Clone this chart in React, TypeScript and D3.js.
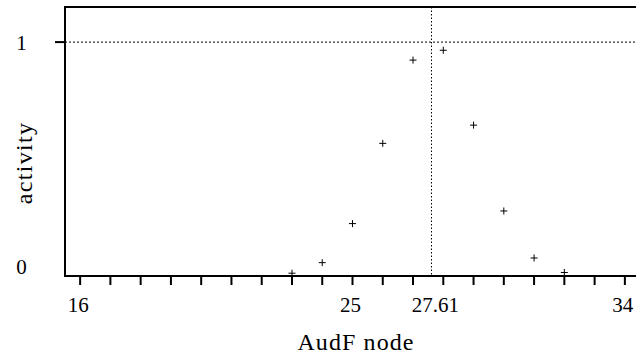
import * as d3 from 'd3';

const width = 636;
const height = 356;
const [mt, mr, mb, ml] = [7, -4, 80, 65];

// node positions and activity
const nodes = [23, 24, 25, 26, 27, 28, 29, 30, 31, 32];
const activity = [0.012, 0.057, 0.224, 0.567, 0.923, 0.965, 0.645, 0.278, 0.077, 0.015];

const xTicks = d3.range(16, 35);
const xLabels = [16, 25, 27.61, 34];
const yLabels = [0, 1];
const peak = 27.61;

const font = '"Liberation Serif", "Times New Roman", Times, serif';

const x = d3
    .scaleLinear()
    .domain([15.5, 34.5])
    .range([ml, width - mr]);
const y = d3
    .scaleLinear()
    .domain([0, 1.15])
    .range([height - mb, mt]);

export default function App() {
    const [x0, x1] = x.domain();
    const [y0, y1] = y.domain();

    return (
        <svg width={width} height={height} style={{ position: 'absolute', left: 0, top: 0, background: '#fff' }}>
            {/* reference lines */}
            <line x1={x(x0)} x2={x(x1)} y1={y(1)} y2={y(1)} stroke="#000" strokeWidth={1} strokeDasharray="2 2" />
            <line x1={x(peak)} x2={x(peak)} y1={y(y1)} y2={y(y0)} stroke="#000" strokeWidth={1} strokeDasharray="1.5 2" />

            {/* frame */}
            <rect
                x={x(x0)}
                y={y(y1)}
                width={x(x1) - x(x0)}
                height={y(y0) - y(y1)}
                fill="none"
                stroke="#000"
                strokeWidth={2}
            />

            {/* x ticks */}
            {xTicks.map((d) => (
                <line key={d} x1={x(d)} x2={x(d)} y1={y(0)} y2={y(0) + 9} stroke="#000" strokeWidth={2} />
            ))}
            {xLabels.map((d) => (
                <text
                    key={d}
                    x={x(d) + (d === peak ? 4 : -2)}
                    y={y(0) + 36}
                    textAnchor="middle"
                    fontSize={21}
                    fontFamily={font}
                >
                    {String(d)}
                </text>
            ))}

            {/* y tick only at 1 */}
            <line x1={ml - 10} x2={ml} y1={y(1)} y2={y(1)} stroke="#000" strokeWidth={2} />
            {yLabels.map((d) => (
                <text
                    key={d}
                    x={21.5}
                    y={Math.min(y(d) + 8, y(0) - 2)}
                    textAnchor="middle"
                    fontSize={21}
                    fontFamily={font}
                >
                    {String(d)}
                </text>
            ))}

            {/* points as plus signs */}
            {nodes.map((d, i) => (
                <path
                    key={d}
                    transform={`translate(${x(d)},${y(activity[i])})`}
                    d="M-3.5,0H3.5M0,-3.5V3.5"
                    stroke="#000"
                    strokeWidth={1}
                    fill="none"
                />
            ))}

            {/* axis titles */}
            <text x={356} y={350} textAnchor="middle" fontSize={24} fontFamily={font} letterSpacing={1.1}>
                AudF node
            </text>
            <text
                transform="translate(32,163) rotate(-90)"
                textAnchor="middle"
                fontSize={24}
                fontFamily={font}
                letterSpacing={1.3}
            >
                activity
            </text>
        </svg>
    );
}
